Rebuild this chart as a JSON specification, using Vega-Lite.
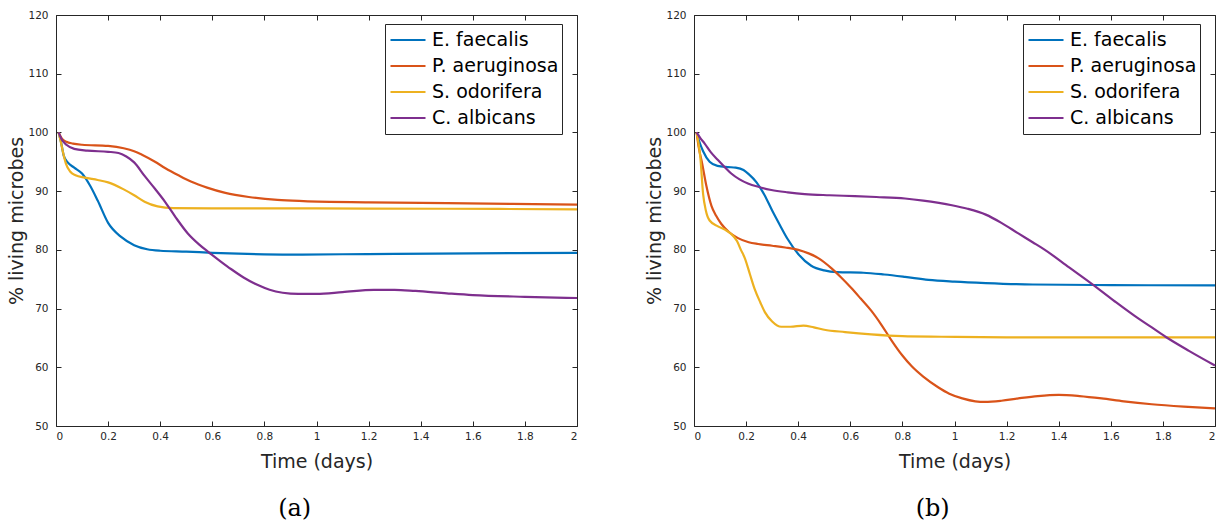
{
  "$schema": "https://vega.github.io/schema/vega-lite/v6.json",
  "background": "white",
  "padding": {"left": 7, "top": 10, "right": 0, "bottom": 0},
  "datasets": {
    "a": [
      {"t": 0.01, "v": 100, "s": "E. faecalis"}, {"t": 0.02, "v": 98.2, "s": "E. faecalis"}, {"t": 0.03, "v": 96.0, "s": "E. faecalis"}, {"t": 0.045, "v": 94.9, "s": "E. faecalis"}, {"t": 0.07, "v": 94.0, "s": "E. faecalis"}, {"t": 0.1, "v": 93.0, "s": "E. faecalis"}, {"t": 0.13, "v": 91.0, "s": "E. faecalis"}, {"t": 0.16, "v": 88.4, "s": "E. faecalis"}, {"t": 0.2, "v": 84.6, "s": "E. faecalis"}, {"t": 0.25, "v": 82.2, "s": "E. faecalis"}, {"t": 0.3, "v": 80.8, "s": "E. faecalis"}, {"t": 0.35, "v": 80.1, "s": "E. faecalis"}, {"t": 0.4, "v": 79.85, "s": "E. faecalis"}, {"t": 0.5, "v": 79.7, "s": "E. faecalis"}, {"t": 0.6, "v": 79.5, "s": "E. faecalis"}, {"t": 0.7, "v": 79.35, "s": "E. faecalis"}, {"t": 0.9, "v": 79.2, "s": "E. faecalis"}, {"t": 1.1, "v": 79.25, "s": "E. faecalis"}, {"t": 1.3, "v": 79.3, "s": "E. faecalis"}, {"t": 1.6, "v": 79.4, "s": "E. faecalis"}, {"t": 2.0, "v": 79.5, "s": "E. faecalis"},
      {"t": 0.01, "v": 100, "s": "P. aeruginosa"}, {"t": 0.022, "v": 99.0, "s": "P. aeruginosa"}, {"t": 0.04, "v": 98.4, "s": "P. aeruginosa"}, {"t": 0.065, "v": 98.1, "s": "P. aeruginosa"}, {"t": 0.1, "v": 97.9, "s": "P. aeruginosa"}, {"t": 0.2, "v": 97.7, "s": "P. aeruginosa"}, {"t": 0.26, "v": 97.3, "s": "P. aeruginosa"}, {"t": 0.3, "v": 96.8, "s": "P. aeruginosa"}, {"t": 0.33, "v": 96.2, "s": "P. aeruginosa"}, {"t": 0.38, "v": 95.0, "s": "P. aeruginosa"}, {"t": 0.42, "v": 93.9, "s": "P. aeruginosa"}, {"t": 0.47, "v": 92.7, "s": "P. aeruginosa"}, {"t": 0.52, "v": 91.6, "s": "P. aeruginosa"}, {"t": 0.58, "v": 90.6, "s": "P. aeruginosa"}, {"t": 0.65, "v": 89.7, "s": "P. aeruginosa"}, {"t": 0.74, "v": 89.0, "s": "P. aeruginosa"}, {"t": 0.85, "v": 88.5, "s": "P. aeruginosa"}, {"t": 0.95, "v": 88.3, "s": "P. aeruginosa"}, {"t": 1.2, "v": 88.1, "s": "P. aeruginosa"}, {"t": 1.5, "v": 87.95, "s": "P. aeruginosa"}, {"t": 2.0, "v": 87.7, "s": "P. aeruginosa"},
      {"t": 0.01, "v": 100, "s": "S. odorifera"}, {"t": 0.018, "v": 98.5, "s": "S. odorifera"}, {"t": 0.026, "v": 96.8, "s": "S. odorifera"}, {"t": 0.038, "v": 94.7, "s": "S. odorifera"}, {"t": 0.055, "v": 93.3, "s": "S. odorifera"}, {"t": 0.075, "v": 92.7, "s": "S. odorifera"}, {"t": 0.11, "v": 92.3, "s": "S. odorifera"}, {"t": 0.16, "v": 91.9, "s": "S. odorifera"}, {"t": 0.2, "v": 91.5, "s": "S. odorifera"}, {"t": 0.26, "v": 90.3, "s": "S. odorifera"}, {"t": 0.3, "v": 89.3, "s": "S. odorifera"}, {"t": 0.34, "v": 88.2, "s": "S. odorifera"}, {"t": 0.39, "v": 87.4, "s": "S. odorifera"}, {"t": 0.45, "v": 87.1, "s": "S. odorifera"}, {"t": 0.6, "v": 87.05, "s": "S. odorifera"}, {"t": 1.0, "v": 87.05, "s": "S. odorifera"}, {"t": 1.5, "v": 87.0, "s": "S. odorifera"}, {"t": 2.0, "v": 86.9, "s": "S. odorifera"},
      {"t": 0.01, "v": 100, "s": "C. albicans"}, {"t": 0.022, "v": 98.8, "s": "C. albicans"}, {"t": 0.04, "v": 97.9, "s": "C. albicans"}, {"t": 0.07, "v": 97.2, "s": "C. albicans"}, {"t": 0.12, "v": 96.9, "s": "C. albicans"}, {"t": 0.2, "v": 96.7, "s": "C. albicans"}, {"t": 0.24, "v": 96.5, "s": "C. albicans"}, {"t": 0.27, "v": 95.9, "s": "C. albicans"}, {"t": 0.3, "v": 94.9, "s": "C. albicans"}, {"t": 0.34, "v": 92.6, "s": "C. albicans"}, {"t": 0.38, "v": 90.4, "s": "C. albicans"}, {"t": 0.42, "v": 88.1, "s": "C. albicans"}, {"t": 0.46, "v": 85.5, "s": "C. albicans"}, {"t": 0.506, "v": 82.8, "s": "C. albicans"}, {"t": 0.55, "v": 80.9, "s": "C. albicans"}, {"t": 0.583, "v": 79.7, "s": "C. albicans"}, {"t": 0.63, "v": 78.1, "s": "C. albicans"}, {"t": 0.673, "v": 76.7, "s": "C. albicans"}, {"t": 0.72, "v": 75.3, "s": "C. albicans"}, {"t": 0.775, "v": 74.0, "s": "C. albicans"}, {"t": 0.82, "v": 73.2, "s": "C. albicans"}, {"t": 0.87, "v": 72.7, "s": "C. albicans"}, {"t": 0.93, "v": 72.5, "s": "C. albicans"}, {"t": 1.0, "v": 72.5, "s": "C. albicans"}, {"t": 1.1, "v": 72.8, "s": "C. albicans"}, {"t": 1.22, "v": 73.2, "s": "C. albicans"}, {"t": 1.3, "v": 73.2, "s": "C. albicans"}, {"t": 1.38, "v": 73.0, "s": "C. albicans"}, {"t": 1.5, "v": 72.6, "s": "C. albicans"}, {"t": 1.6, "v": 72.3, "s": "C. albicans"}, {"t": 1.8, "v": 72.0, "s": "C. albicans"}, {"t": 2.0, "v": 71.8, "s": "C. albicans"}
    ],
    "b": [
      {"t": 0.01, "v": 100, "s": "E. faecalis"}, {"t": 0.02, "v": 98.5, "s": "E. faecalis"}, {"t": 0.035, "v": 96.8, "s": "E. faecalis"}, {"t": 0.06, "v": 95.0, "s": "E. faecalis"}, {"t": 0.09, "v": 94.3, "s": "E. faecalis"}, {"t": 0.13, "v": 94.1, "s": "E. faecalis"}, {"t": 0.16, "v": 94.0, "s": "E. faecalis"}, {"t": 0.19, "v": 93.6, "s": "E. faecalis"}, {"t": 0.21, "v": 92.9, "s": "E. faecalis"}, {"t": 0.24, "v": 91.5, "s": "E. faecalis"}, {"t": 0.27, "v": 89.4, "s": "E. faecalis"}, {"t": 0.3, "v": 86.7, "s": "E. faecalis"}, {"t": 0.33, "v": 84.2, "s": "E. faecalis"}, {"t": 0.36, "v": 81.8, "s": "E. faecalis"}, {"t": 0.4, "v": 79.3, "s": "E. faecalis"}, {"t": 0.45, "v": 77.3, "s": "E. faecalis"}, {"t": 0.5, "v": 76.5, "s": "E. faecalis"}, {"t": 0.55, "v": 76.2, "s": "E. faecalis"}, {"t": 0.65, "v": 76.1, "s": "E. faecalis"}, {"t": 0.73, "v": 75.8, "s": "E. faecalis"}, {"t": 0.81, "v": 75.4, "s": "E. faecalis"}, {"t": 0.9, "v": 74.9, "s": "E. faecalis"}, {"t": 1.0, "v": 74.6, "s": "E. faecalis"}, {"t": 1.12, "v": 74.35, "s": "E. faecalis"}, {"t": 1.3, "v": 74.1, "s": "E. faecalis"}, {"t": 1.6, "v": 74.0, "s": "E. faecalis"}, {"t": 2.0, "v": 73.95, "s": "E. faecalis"},
      {"t": 0.01, "v": 100, "s": "P. aeruginosa"}, {"t": 0.018, "v": 97.5, "s": "P. aeruginosa"}, {"t": 0.03, "v": 95.0, "s": "P. aeruginosa"}, {"t": 0.047, "v": 91.0, "s": "P. aeruginosa"}, {"t": 0.067, "v": 87.5, "s": "P. aeruginosa"}, {"t": 0.085, "v": 85.8, "s": "P. aeruginosa"}, {"t": 0.105, "v": 84.4, "s": "P. aeruginosa"}, {"t": 0.135, "v": 83.0, "s": "P. aeruginosa"}, {"t": 0.169, "v": 82.0, "s": "P. aeruginosa"}, {"t": 0.21, "v": 81.3, "s": "P. aeruginosa"}, {"t": 0.246, "v": 81.0, "s": "P. aeruginosa"}, {"t": 0.3, "v": 80.7, "s": "P. aeruginosa"}, {"t": 0.35, "v": 80.4, "s": "P. aeruginosa"}, {"t": 0.4, "v": 80.0, "s": "P. aeruginosa"}, {"t": 0.44, "v": 79.4, "s": "P. aeruginosa"}, {"t": 0.477, "v": 78.6, "s": "P. aeruginosa"}, {"t": 0.527, "v": 76.9, "s": "P. aeruginosa"}, {"t": 0.565, "v": 75.3, "s": "P. aeruginosa"}, {"t": 0.604, "v": 73.5, "s": "P. aeruginosa"}, {"t": 0.64, "v": 71.7, "s": "P. aeruginosa"}, {"t": 0.681, "v": 69.6, "s": "P. aeruginosa"}, {"t": 0.72, "v": 67.2, "s": "P. aeruginosa"}, {"t": 0.758, "v": 64.6, "s": "P. aeruginosa"}, {"t": 0.8, "v": 62.0, "s": "P. aeruginosa"}, {"t": 0.835, "v": 60.2, "s": "P. aeruginosa"}, {"t": 0.88, "v": 58.4, "s": "P. aeruginosa"}, {"t": 0.937, "v": 56.6, "s": "P. aeruginosa"}, {"t": 0.98, "v": 55.5, "s": "P. aeruginosa"}, {"t": 1.03, "v": 54.7, "s": "P. aeruginosa"}, {"t": 1.08, "v": 54.2, "s": "P. aeruginosa"}, {"t": 1.117, "v": 54.1, "s": "P. aeruginosa"}, {"t": 1.18, "v": 54.3, "s": "P. aeruginosa"}, {"t": 1.245, "v": 54.7, "s": "P. aeruginosa"}, {"t": 1.32, "v": 55.1, "s": "P. aeruginosa"}, {"t": 1.4, "v": 55.3, "s": "P. aeruginosa"}, {"t": 1.48, "v": 55.1, "s": "P. aeruginosa"}, {"t": 1.565, "v": 54.7, "s": "P. aeruginosa"}, {"t": 1.65, "v": 54.2, "s": "P. aeruginosa"}, {"t": 1.757, "v": 53.7, "s": "P. aeruginosa"}, {"t": 1.88, "v": 53.3, "s": "P. aeruginosa"}, {"t": 2.0, "v": 53.0, "s": "P. aeruginosa"},
      {"t": 0.01, "v": 100, "s": "S. odorifera"}, {"t": 0.016, "v": 98.5, "s": "S. odorifera"}, {"t": 0.024, "v": 95.9, "s": "S. odorifera"}, {"t": 0.035, "v": 89.5, "s": "S. odorifera"}, {"t": 0.045, "v": 86.8, "s": "S. odorifera"}, {"t": 0.06, "v": 85.0, "s": "S. odorifera"}, {"t": 0.092, "v": 84.0, "s": "S. odorifera"}, {"t": 0.12, "v": 83.4, "s": "S. odorifera"}, {"t": 0.143, "v": 82.7, "s": "S. odorifera"}, {"t": 0.165, "v": 81.5, "s": "S. odorifera"}, {"t": 0.18, "v": 80.0, "s": "S. odorifera"}, {"t": 0.195, "v": 78.6, "s": "S. odorifera"}, {"t": 0.215, "v": 75.8, "s": "S. odorifera"}, {"t": 0.233, "v": 73.3, "s": "S. odorifera"}, {"t": 0.255, "v": 71.0, "s": "S. odorifera"}, {"t": 0.272, "v": 69.4, "s": "S. odorifera"}, {"t": 0.3, "v": 67.8, "s": "S. odorifera"}, {"t": 0.335, "v": 66.9, "s": "S. odorifera"}, {"t": 0.37, "v": 66.9, "s": "S. odorifera"}, {"t": 0.42, "v": 67.1, "s": "S. odorifera"}, {"t": 0.46, "v": 66.8, "s": "S. odorifera"}, {"t": 0.5, "v": 66.4, "s": "S. odorifera"}, {"t": 0.58, "v": 66.0, "s": "S. odorifera"}, {"t": 0.68, "v": 65.6, "s": "S. odorifera"}, {"t": 0.8, "v": 65.3, "s": "S. odorifera"}, {"t": 0.95, "v": 65.2, "s": "S. odorifera"}, {"t": 1.2, "v": 65.1, "s": "S. odorifera"}, {"t": 1.6, "v": 65.1, "s": "S. odorifera"}, {"t": 2.0, "v": 65.1, "s": "S. odorifera"},
      {"t": 0.01, "v": 100, "s": "C. albicans"}, {"t": 0.025, "v": 99.0, "s": "C. albicans"}, {"t": 0.041, "v": 98.1, "s": "C. albicans"}, {"t": 0.065, "v": 96.6, "s": "C. albicans"}, {"t": 0.092, "v": 95.3, "s": "C. albicans"}, {"t": 0.12, "v": 94.0, "s": "C. albicans"}, {"t": 0.143, "v": 93.0, "s": "C. albicans"}, {"t": 0.175, "v": 92.0, "s": "C. albicans"}, {"t": 0.207, "v": 91.3, "s": "C. albicans"}, {"t": 0.25, "v": 90.7, "s": "C. albicans"}, {"t": 0.297, "v": 90.2, "s": "C. albicans"}, {"t": 0.36, "v": 89.8, "s": "C. albicans"}, {"t": 0.425, "v": 89.5, "s": "C. albicans"}, {"t": 0.52, "v": 89.3, "s": "C. albicans"}, {"t": 0.617, "v": 89.15, "s": "C. albicans"}, {"t": 0.7, "v": 89.0, "s": "C. albicans"}, {"t": 0.81, "v": 88.75, "s": "C. albicans"}, {"t": 0.88, "v": 88.4, "s": "C. albicans"}, {"t": 0.94, "v": 88.0, "s": "C. albicans"}, {"t": 0.99, "v": 87.6, "s": "C. albicans"}, {"t": 1.05, "v": 87.0, "s": "C. albicans"}, {"t": 1.12, "v": 86.0, "s": "C. albicans"}, {"t": 1.18, "v": 84.6, "s": "C. albicans"}, {"t": 1.245, "v": 82.8, "s": "C. albicans"}, {"t": 1.3, "v": 81.3, "s": "C. albicans"}, {"t": 1.347, "v": 80.0, "s": "C. albicans"}, {"t": 1.44, "v": 77.0, "s": "C. albicans"}, {"t": 1.527, "v": 74.2, "s": "C. albicans"}, {"t": 1.61, "v": 71.4, "s": "C. albicans"}, {"t": 1.693, "v": 68.7, "s": "C. albicans"}, {"t": 1.75, "v": 67.0, "s": "C. albicans"}, {"t": 1.81, "v": 65.2, "s": "C. albicans"}, {"t": 1.9, "v": 62.8, "s": "C. albicans"}, {"t": 2.0, "v": 60.3, "s": "C. albicans"}
    ]
  },
  "config": {
    "view": {"stroke": null},
    "font": "DejaVu Sans",
    "axis": {
      "grid": false,
      "domainColor": "#262626",
      "domainWidth": 1,
      "tickColor": "#262626",
      "tickWidth": 1,
      "tickSize": -5,
      "labelColor": "#262626",
      "labelFont": "DejaVu Sans",
      "labelFontSize": 10.5,
      "titleFont": "DejaVu Sans",
      "titleFontSize": 19,
      "titleFontWeight": "normal",
      "titleColor": "#262626"
    },
    "title": {
      "font": "DejaVu Serif",
      "fontSize": 24,
      "fontWeight": "normal",
      "color": "black",
      "orient": "bottom",
      "anchor": "middle",
      "frame": "bounds",
      "offset": 25
    },
    "legend": {
      "orient": "none",
      "legendX": 329,
      "legendY": 9,
      "title": null,
      "symbolType": "stroke",
      "symbolSize": 1225,
      "symbolStrokeWidth": 2,
      "clipHeight": 26,
      "padding": 3,
      "rowPadding": 0,
      "labelFont": "DejaVu Sans",
      "labelFontSize": 19,
      "labelColor": "black",
      "labelOffset": 5.5,
      "symbolOffset": 1.5,
      "labelLimit": 400,
      "strokeColor": "#262626",
      "fillColor": "white"
    }
  },
  "resolve": {"scale": {"color": "independent"}},
  "bounds": "flush",
  "spacing": 117,
  "hconcat": [
    {
      "width": 521,
      "height": 411,
      "title": {"text": "(a)"},
      "data": {"name": "a"},
      "layer": [
        {
          "mark": {"type": "line", "strokeWidth": 2.2, "interpolate": "monotone"},
          "encoding": {
            "x": {"field": "t", "type": "quantitative", "scale": {"domain": [0, 2], "nice": false, "zero": false},
                  "axis": {"orient": "bottom", "values": [0, 0.2, 0.4, 0.6, 0.8, 1, 1.2, 1.4, 1.6, 1.8, 2], "format": "~g", "title": "Time (days)", "labelPadding": 10, "titlePadding": 11}},
            "y": {"field": "v", "type": "quantitative", "scale": {"domain": [50, 120], "nice": false, "zero": false},
                  "axis": {"orient": "left", "values": [50, 60, 70, 80, 90, 100, 110, 120], "title": "% living microbes", "labelPadding": 13, "titlePadding": 1}},
            "color": {"field": "s", "type": "nominal",
                      "scale": {"domain": ["E. faecalis", "P. aeruginosa", "S. odorifera", "C. albicans"], "range": ["#0072BD", "#D95319", "#EDB120", "#7E2F8E"]}}
          }
        },
        {
          "mark": {"type": "line", "opacity": 0},
          "encoding": {
            "x": {"field": "t", "type": "quantitative", "axis": {"orient": "top", "values": [0, 0.2, 0.4, 0.6, 0.8, 1, 1.2, 1.4, 1.6, 1.8, 2], "labels": false, "title": null}},
            "y": {"field": "v", "type": "quantitative", "axis": {"orient": "right", "values": [50, 60, 70, 80, 90, 100, 110, 120], "labels": false, "title": null}},
            "detail": {"field": "s", "type": "nominal"}
          }
        }
      ],
      "resolve": {"axis": {"x": "independent", "y": "independent"}}
    },
    {
      "width": 521,
      "height": 411,
      "title": {"text": "(b)"},
      "data": {"name": "b"},
      "layer": [
        {
          "mark": {"type": "line", "strokeWidth": 2.2, "interpolate": "monotone"},
          "encoding": {
            "x": {"field": "t", "type": "quantitative", "scale": {"domain": [0, 2], "nice": false, "zero": false},
                  "axis": {"orient": "bottom", "values": [0, 0.2, 0.4, 0.6, 0.8, 1, 1.2, 1.4, 1.6, 1.8, 2], "format": "~g", "title": "Time (days)", "labelPadding": 10, "titlePadding": 11}},
            "y": {"field": "v", "type": "quantitative", "scale": {"domain": [50, 120], "nice": false, "zero": false},
                  "axis": {"orient": "left", "values": [50, 60, 70, 80, 90, 100, 110, 120], "title": "% living microbes", "labelPadding": 13, "titlePadding": 1}},
            "color": {"field": "s", "type": "nominal",
                      "scale": {"domain": ["E. faecalis", "P. aeruginosa", "S. odorifera", "C. albicans"], "range": ["#0072BD", "#D95319", "#EDB120", "#7E2F8E"]}}
          }
        },
        {
          "mark": {"type": "line", "opacity": 0},
          "encoding": {
            "x": {"field": "t", "type": "quantitative", "axis": {"orient": "top", "values": [0, 0.2, 0.4, 0.6, 0.8, 1, 1.2, 1.4, 1.6, 1.8, 2], "labels": false, "title": null}},
            "y": {"field": "v", "type": "quantitative", "axis": {"orient": "right", "values": [50, 60, 70, 80, 90, 100, 110, 120], "labels": false, "title": null}},
            "detail": {"field": "s", "type": "nominal"}
          }
        }
      ],
      "resolve": {"axis": {"x": "independent", "y": "independent"}}
    }
  ]
}
